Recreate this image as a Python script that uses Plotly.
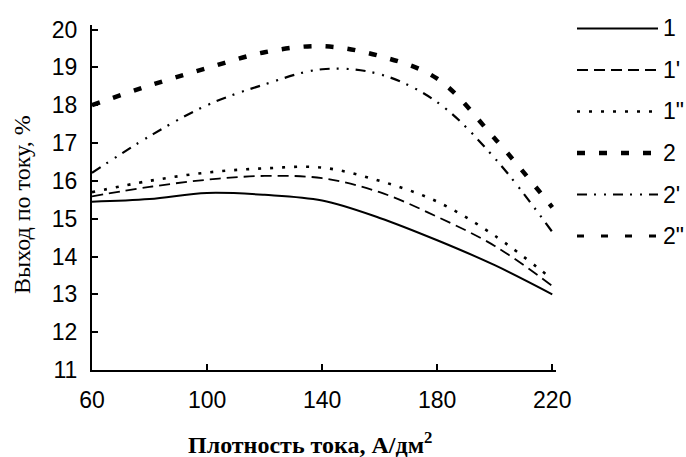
import plotly.graph_objects as go

# ---- data ----
density = [60, 80, 100, 120, 140, 160, 180, 200, 220]          # А/дм²
yield_1 = [15.45, 15.52, 15.68, 15.63, 15.48, 15.02, 14.43, 13.77, 13.00]
yield_1p = [15.59, 15.84, 16.03, 16.13, 16.07, 15.70, 15.05, 14.28, 13.22]
yield_1pp = [15.70, 16.00, 16.22, 16.33, 16.35, 16.00, 15.45, 14.55, 13.40]
yield_2 = [18.00, 18.52, 18.98, 19.40, 19.56, 19.30, 18.70, 17.12, 15.30]
yield_2p = [16.21, 17.18, 18.00, 18.55, 18.95, 18.82, 18.08, 16.60, 14.65]
yield_2pp = []   # listed in legend only (no curve drawn in the reference)

series_names = ["1", "1'", '1"', "2", "2'", '2"']
series_values = [yield_1, yield_1p, yield_1pp, yield_2, yield_2p, yield_2pp]

x_ticks = [60, 100, 140, 180, 220]
y_ticks = list(range(11, 21))

x_title = "Плотность тока, А/дм<sup>2</sup>"
y_title = "Выход по току, %"

# ---- styles ----
styles = {
    "1": dict(dash="solid", width=2.0),
    "1'": dict(dash="11px,6px", width=1.8),
    '1"': dict(dash="3px,9px", width=2.6),
    "2": dict(dash="8px,14px", width=4.5),
    "2'": dict(dash="10px,7px,2px,8px,2px,7px", width=2.2),
    '2"': dict(dash="7px,17px", width=3.0),
}

fig = go.Figure()
for name, vals in zip(series_names, series_values):
    if not vals:
        continue
    st = styles[name]
    fig.add_trace(go.Scatter(
        x=density[:len(vals)], y=vals, mode="lines", name=name,
        line=dict(color="black", width=st["width"], dash=st["dash"],
                  shape="spline", smoothing=1.0),
        showlegend=False,
    ))

# ---- layout geometry ----
W, H = 686, 457
ML, MR, MT, MB = 92, 130, 25, 87
PW, PH = W - ML - MR, H - MT - MB

def px_x(px):
    return (px - ML) / PW

def px_y(py):
    return (H - MB - py) / PH

tick_font = dict(family="Liberation Sans, Arial, sans-serif", size=23, color="black")

# custom legend (long line samples like the reference)
shapes = []
annotations = []
for i, name in enumerate(series_names):
    st = styles[name]
    yy = px_y(28.5 + i * 41.5)
    shapes.append(dict(type="line", xref="paper", yref="paper",
                       x0=px_x(577), x1=px_x(658), y0=yy, y1=yy,
                       line=dict(color="black", width=st["width"], dash=st["dash"])))
    annotations.append(dict(text=name, xref="paper", yref="paper",
                            x=px_x(661), y=yy, xanchor="left", yanchor="middle",
                            showarrow=False, font=tick_font))

annotations.append(dict(text=y_title, xref="paper", yref="paper",
                        x=px_x(22), y=px_y(205), xanchor="center", yanchor="middle",
                        textangle=-90, showarrow=False,
                        font=dict(family="Liberation Serif, Times New Roman, serif",
                                  size=24, color="black")))
annotations.append(dict(text=x_title, xref="paper", yref="paper",
                        x=px_x(310), y=px_y(443), xanchor="center", yanchor="middle",
                        showarrow=False,
                        font=dict(family="Liberation Serif, Times New Roman, serif",
                                  size=24, color="black", weight="bold")))

fig.update_layout(
    width=W, height=H,
    margin=dict(l=ML, r=MR, t=MT, b=MB),
    paper_bgcolor="white", plot_bgcolor="white",
    shapes=shapes, annotations=annotations,
    showlegend=False,
)
fig.update_xaxes(
    range=[60, 221.3], tickvals=x_ticks, ticktext=[str(v) for v in x_ticks],
    showline=True, linecolor="black", linewidth=2,
    ticks="inside", ticklen=6, tickwidth=2, tickcolor="black",
    showgrid=False, zeroline=False, tickfont=tick_font, ticklabelstandoff=8,
)
fig.update_yaxes(
    range=[11, 20.12], tickvals=y_ticks, ticktext=[str(v) for v in y_ticks],
    showline=True, linecolor="black", linewidth=2,
    ticks="inside", ticklen=6, tickwidth=2, tickcolor="black",
    showgrid=False, zeroline=False, tickfont=tick_font, ticklabelstandoff=8,
)

fig.write_html("out.html")
